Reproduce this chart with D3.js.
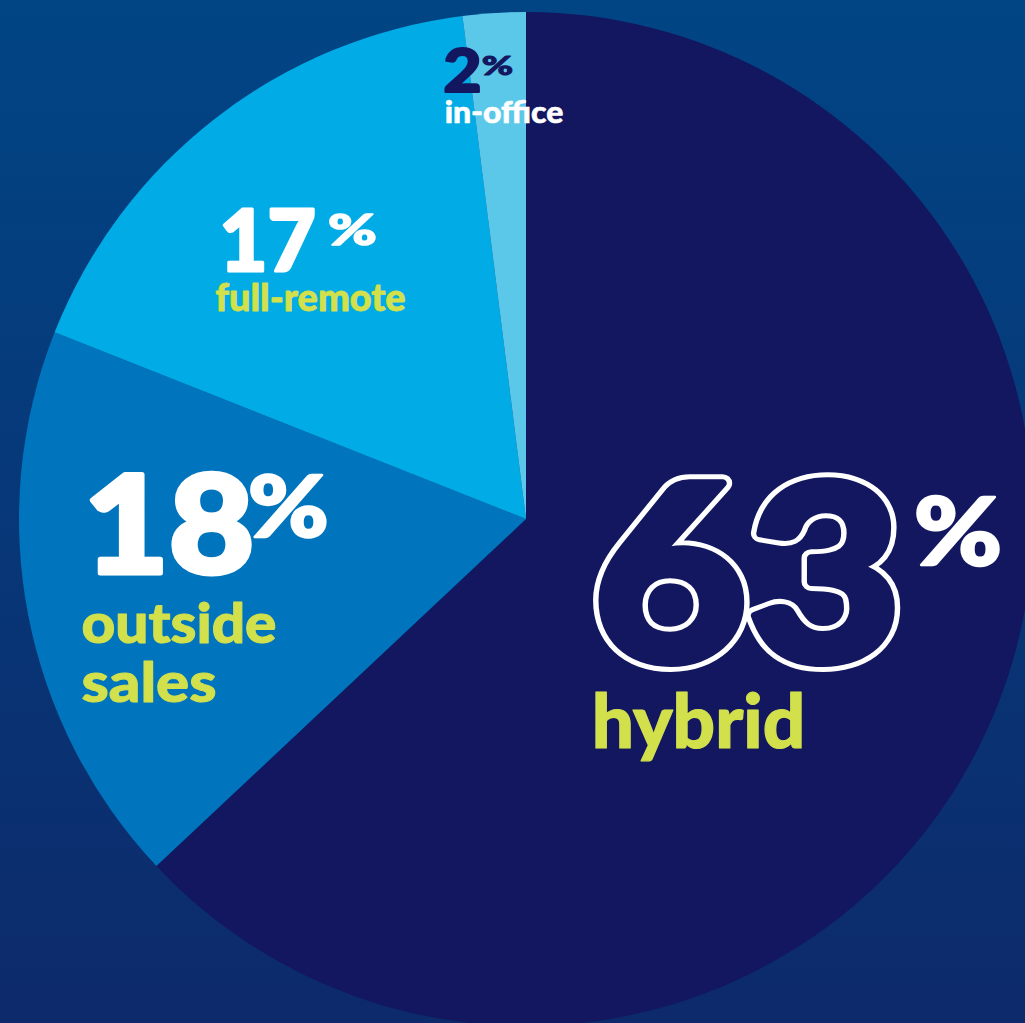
<!DOCTYPE html>
<html><head><meta charset="utf-8">
<script src="https://cdn.jsdelivr.net/npm/d3@7"></script>
<style>html,body{margin:0;padding:0;overflow:hidden;background:#0a3170}</style>
</head><body>
<svg id="chart" width="1025" height="1023"></svg>
<script>
const categories = ["hybrid", "outside sales", "full-remote", "in-office"];
const values = [63, 18, 17, 2];
const colors = ["#12175f", "#0074bc", "#00abe6", "#5bc8ea"];

const W = 1025, H = 1023, cx = 526, cy = 519, R = 507;
const svg = d3.select("#chart");
const defs = svg.append("defs");
const grad = defs.append("linearGradient").attr("id","bg").attr("x1",0).attr("y1",0).attr("x2",0).attr("y2",1);
grad.append("stop").attr("offset","0%").attr("stop-color","#014585");
grad.append("stop").attr("offset","100%").attr("stop-color","#0d2a6b");
svg.append("rect").attr("width",W).attr("height",H).attr("fill","url(#bg)");

const pie = d3.pie().sort(null).value(d => d.v).startAngle(0).endAngle(2*Math.PI);
const arc = d3.arc().innerRadius(0).outerRadius(R);
const data = categories.map((c,i) => ({c, v: values[i], col: colors[i]}));
const g = svg.append("g").attr("transform", `translate(${cx},${cy})`);
g.selectAll("path").data(pie(data)).join("path")
  .attr("d", arc).attr("fill", d => d.data.col);

const F = "Lato, 'Noto Sans', 'Open Sans', sans-serif";
const green = "#d2e04c";
// inkLeft, baseline, string, font size, ink width, fill, stroke width
function t(inkLeft, y, s, size, len, fill, sw) {
  const e = svg.append("text")
    .attr("x", inkLeft - 0.045*size).attr("y", y).text(s)
    .attr("font-family", F).attr("font-size", size).attr("font-weight", 900)
    .attr("fill", fill)
    .attr("textLength", len + 0.09*size).attr("lengthAdjust", "spacingAndGlyphs");
  if (sw) e.attr("stroke", fill).attr("stroke-width", sw).attr("stroke-linejoin", "round");
  return e;
}
const navy = colors[0];
// in-office 2%
t(446, 92, values[3], 60, 33, navy, 2);
t(483, 75, "%", 27, 29, navy, 1);
t(446, 123, categories[3], 30, 116, "#ffffff", 0.6);
// full-remote 17%
t(223, 271, values[2], 86, 89, "#ffffff", 3);
t(330, 245, "%", 42, 45, "#ffffff", 1.5);
t(217, 311, categories[2], 37, 187, green, 0.8);
// outside sales 18%
t(90, 573, values[1], 136, 158, "#ffffff", 5);
t(252, 537, "%", 86, 73, "#ffffff", 2.5);
t(84, 643, "outside", 56, 190, green, 1);
t(84, 702, "sales", 56, 130, green, 1);
// hybrid 63% (outlined)
const sixtyThree = [[18, "#ffffff"], [8, navy]];
sixtyThree.forEach(([sw, col]) => {
  svg.append("text")
    .attr("x", 604 - 0.045*245).attr("y", 661).text(values[0])
    .attr("font-family", F).attr("font-size", 245).attr("font-weight", 900)
    .attr("fill", col).attr("stroke", col).attr("stroke-width", sw).attr("stroke-linejoin", "round")
    .attr("textLength", 287 + 0.09*245).attr("lengthAdjust", "spacingAndGlyphs");
});
t(918, 565, "%", 94, 80, "#ffffff", 2.5);
t(595, 748, categories[0], 74, 207, green, 1.2);
</script>
</body></html>
